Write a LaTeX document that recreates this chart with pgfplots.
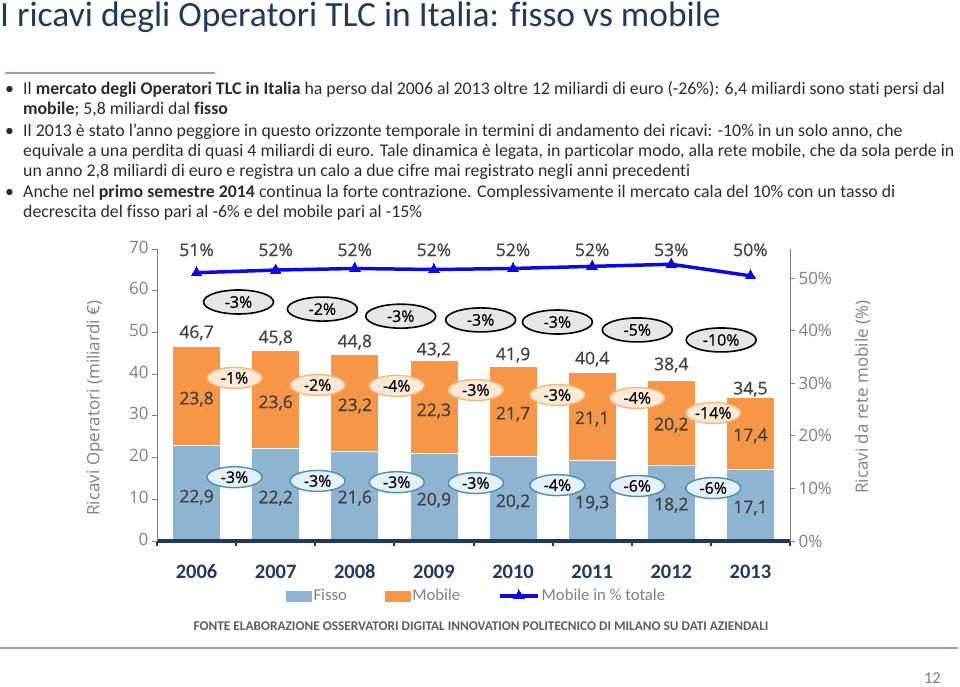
\documentclass[border=0pt]{standalone}
\usepackage{fontspec}
\setmainfont{Carlito}[Ligatures={NoCommon}]
\newfontfamily\osans{Open Sans}
\newfontfamily\osansm{Open Sans}[FakeBold=0.6]
\usepackage{pgfplots}
\pgfplotsset{compat=1.18}
\usetikzlibrary{shapes.geometric}
\definecolor{fisso}{HTML}{8FB4D1}
\definecolor{mobile}{HTML}{F79646}
\definecolor{linblue}{HTML}{0A0AE6}
\definecolor{navy}{HTML}{1F3864}
\definecolor{titleblue}{HTML}{1F3A5A}
\definecolor{txtgray}{HTML}{404040}
\definecolor{axgray}{HTML}{7F7F7F}
\definecolor{bodytxt}{HTML}{2B2B2B}
\definecolor{sepline}{HTML}{8EA6B4}
\definecolor{ellgray}{HTML}{E6E6E6}
\definecolor{ellmob}{HTML}{FDE9D5}
\definecolor{ellmobd}{HTML}{F9B67A}
\definecolor{ellfis}{HTML}{E6F0F8}
\definecolor{ellfisd}{HTML}{4D8DB0}
\pgfplotsset{linelegend/.style={legend image code/.code={\draw[##1, mark repeat=2, mark phase=2] plot coordinates {(0pt,0pt) (19pt,0pt) (38pt,0pt)};}}}
\tikzset{
  elltot/.style={ellipse, draw=black, line width=1.6pt, fill=ellgray, minimum width=70pt, minimum height=24pt, inner sep=0pt, font=\osansm\fontsize{16}{18}\selectfont, text=black},
  ellmo/.style={ellipse, draw=ellmobd, line width=1.4pt, fill=ellmob, minimum width=55pt, minimum height=21pt, inner sep=0pt, font=\osansm\fontsize{16}{18}\selectfont, text=black},
  ellfi/.style={ellipse, draw=ellfisd, line width=1.4pt, fill=ellfis, minimum width=55pt, minimum height=21pt, inner sep=0pt, font=\osansm\fontsize{16}{18}\selectfont, text=black},
  val/.style={font=\osansm\fontsize{17.5}{20}\selectfont, text=txtgray, inner sep=0pt},
  body/.style={anchor=base west, inner sep=0pt, font=\fontsize{17.8}{20}\selectfont, text=bodytxt},
}
\begin{document}
\begin{tikzpicture}
\path[use as bounding box] (0pt,0pt) rectangle (960pt,-686pt);
% title
\node[anchor=base west, inner sep=0pt, font=\fontsize{35.5}{40}\selectfont, text=titleblue] at (0pt,-26pt) {I ricavi degli Operatori TLC in Italia: fisso vs mobile};
\draw[sepline, line width=1.5pt] (5pt,-73pt) -- (215pt,-73pt);
% bullets
\node[body] at (5pt,-94pt) {•};
\node[body] at (5pt,-136pt) {•};
\node[body] at (5pt,-197pt) {•};
\node[body] at (23pt,-94pt) {Il \textbf{mercato degli Operatori TLC in Italia} ha perso dal 2006 al 2013 oltre 12 miliardi di euro (-26\%): 6,4 miliardi sono stati persi dal};
\node[body] at (23pt,-114pt) {\textbf{mobile}; 5,8 miliardi dal \textbf{fisso}};
\node[body] at (23pt,-136pt) {Il 2013 è stato l’anno peggiore in questo orizzonte temporale in termini di andamento dei ricavi: -10\% in un solo anno, che};
\node[body] at (23pt,-156pt) {equivale a una perdita di quasi 4 miliardi di euro. Tale dinamica è legata, in particolar modo, alla rete mobile, che da sola perde in};
\node[body] at (23pt,-176pt) {un anno 2,8 miliardi di euro e registra un calo a due cifre mai registrato negli anni precedenti};
\node[body] at (23pt,-197pt) {Anche nel \textbf{primo semestre 2014} continua la forte contrazione. Complessivamente il mercato cala del 10\% con un tasso di};
\node[body] at (23pt,-217pt) {decrescita del fisso pari al -6\% e del mobile pari al -15\%};
% footer
\node[inner sep=0pt, font=\bfseries\fontsize{13.3}{16}\selectfont, text=txtgray!85] at (481pt,-626pt) {FONTE ELABORAZIONE OSSERVATORI DIGITAL INNOVATION POLITECNICO DI MILANO SU DATI AZIENDALI};
\draw[sepline, line width=1.5pt] (0pt,-648pt) -- (958pt,-648pt);
\node[anchor=base east, inner sep=0pt, font=\fontsize{16.5}{19}\selectfont, text=axgray] at (941pt,-683pt) {12};

% main axis: stacked bars
\begin{axis}[
  at={(157pt,-541pt)}, anchor=south west,
  width=633pt, height=292pt, scale only axis,
  xmin=-0.5, xmax=7.5, ymin=0, ymax=70,
  ybar stacked, bar width=48pt,
  axis on top, clip=false,
  axis x line*=bottom, axis y line*=left,
  x axis line style={-, draw=navy, line width=3.5pt},
  y axis line style={-, draw=axgray, line width=0.8pt},
  tick align=outside,
  xtick={0,1,2,3,4,5,6,7},
  xticklabels={2006,2007,2008,2009,2010,2011,2012,2013},
  major x tick style={draw=none},
  minor xtick={-0.5,0.5,1.5,2.5,3.5,4.5,5.5,6.5,7.5},
  minor x tick style={draw=navy, line width=2pt},
  minor tick length=5pt,
  major tick length=5pt,
  typeset ticklabels with strut,
  xticklabel style={font=\bfseries\fontsize{20.5}{24}\selectfont, text=navy, yshift=-12pt},
  ytick={0,10,...,70},
  y tick style={draw=axgray, line width=0.8pt},
  yticklabel style={font=\osans\fontsize{17}{20}\selectfont, text=axgray},
  /pgf/number format/assume math mode=true,
  ylabel={Ricavi Operatori (miliardi €)},
  ylabel style={at={(axis description cs:-0.098,0.455)}, anchor=center, font=\osans\fontsize{17}{20}\selectfont, text=axgray},
]
\addplot[fill=fisso, draw=white, line width=0.8pt] coordinates {(0,22.9) (1,22.2) (2,21.6) (3,20.9) (4,20.2) (5,19.3) (6,18.2) (7,17.1)};
\addplot[fill=mobile, draw=white, line width=0.8pt] coordinates {(0,23.8) (1,23.6) (2,23.2) (3,22.3) (4,21.7) (5,21.1) (6,20.2) (7,17.4)};
\end{axis}

% secondary axis: share of mobile
\begin{axis}[
  at={(157pt,-541pt)}, anchor=south west,
  width=633pt, height=292pt, scale only axis,
  xmin=-0.5, xmax=7.5, ymin=0, ymax=55.5,
  axis x line=none, axis y line*=right,
  y axis line style={-, draw=axgray, line width=0.8pt},
  tick align=outside, major tick length=5pt,
  ytick={0,10,20,30,40,50},
  yticklabel={\pgfmathprintnumber{\tick}\%},
  y tick style={draw=axgray, line width=0.8pt},
  yticklabel style={font=\osans\fontsize{17}{20}\selectfont, text=axgray},
  /pgf/number format/assume math mode=true,
  ylabel={Ricavi da rete mobile (\%)},
  ylabel style={at={(axis description cs:1.115,0.493)}, anchor=center, font=\osans\fontsize{17}{20}\selectfont, text=axgray},
  clip=false,
  legend columns=3,
  legend style={at={(axis description cs:0.505,-0.188)}, anchor=center, draw=none, fill=none,
    font=\fontsize{16.7}{19}\selectfont, text=axgray,
    /tikz/every even column/.append style={column sep=36pt},
    nodes={inner sep=2pt}},
]
\addlegendimage{legend image code/.code={\fill[fisso] (0pt,-5pt) rectangle (25pt,5pt);}}
\addlegendentry{Fisso}
\addlegendimage{legend image code/.code={\fill[mobile] (0pt,-5pt) rectangle (25pt,5pt);}}
\addlegendentry{Mobile}
\addplot[linblue, line width=3.5pt, mark=triangle*, mark size=6pt, mark options={line width=0pt, fill=linblue}, linelegend]
  coordinates {(0,51.0) (1,51.5) (2,51.8) (3,51.6) (4,51.8) (5,52.2) (6,52.6) (7,50.4)};
\addlegendentry{Mobile in \% totale}
\end{axis}

% annotation layer (same geometry as the bar axis)
\begin{axis}[
  at={(157pt,-541pt)}, anchor=south west,
  width=633pt, height=292pt, scale only axis,
  xmin=-0.5, xmax=7.5, ymin=0, ymax=70,
  hide axis, clip=false,
]
% share labels
\node[val] at (axis cs:0,69.8) {51\%};
\node[val] at (axis cs:1,69.8) {52\%};
\node[val] at (axis cs:2,69.8) {52\%};
\node[val] at (axis cs:3,69.8) {52\%};
\node[val] at (axis cs:4,69.8) {52\%};
\node[val] at (axis cs:5,69.8) {52\%};
\node[val] at (axis cs:6,69.8) {53\%};
\node[val] at (axis cs:7,69.8) {50\%};
% totals
\node[val] at (axis cs:0,49.9) {46,7};
\node[val] at (axis cs:1,48.7) {45,8};
\node[val] at (axis cs:2,47.7) {44,8};
\node[val] at (axis cs:3,45.8) {43,2};
\node[val] at (axis cs:4,44.6) {41,9};
\node[val] at (axis cs:5,43.6) {40,4};
\node[val] at (axis cs:6,42.2) {38,4};
\node[val] at (axis cs:7,36.4) {34,5};
% mobile values
\node[val] at (axis cs:0,34.0) {23,8};
\node[val] at (axis cs:1,33.1) {23,6};
\node[val] at (axis cs:2,32.4) {23,2};
\node[val] at (axis cs:3,31.2) {22,3};
\node[val] at (axis cs:4,30.4) {21,7};
\node[val] at (axis cs:5,29.3) {21,1};
\node[val] at (axis cs:6,27.8) {20,2};
\node[val] at (axis cs:7,25.2) {17,4};
% fisso values
\node[val] at (axis cs:0,10.5) {22,9};
\node[val] at (axis cs:1,10.3) {22,2};
\node[val] at (axis cs:2,10.3) {21,6};
\node[val] at (axis cs:3,9.8) {20,9};
\node[val] at (axis cs:4,9.4) {20,2};
\node[val] at (axis cs:5,9.1) {19,3};
\node[val] at (axis cs:6,8.6) {18,2};
\node[val] at (axis cs:7,7.9) {17,1};
% total change ellipses
\node[elltot] at (axis cs:0.53,57.3) {-3\%};
\node[elltot] at (axis cs:1.59,55.6) {-2\%};
\node[elltot] at (axis cs:2.58,53.9) {-3\%};
\node[elltot] at (axis cs:3.59,53.0) {-3\%};
\node[elltot] at (axis cs:4.56,52.5) {-3\%};
\node[elltot] at (axis cs:5.57,50.6) {-5\%};
\node[elltot] at (axis cs:6.63,48.2) {-10\%};
% mobile change ellipses
\node[ellmo] at (axis cs:0.48,39.1) {-1\%};
\node[ellmo] at (axis cs:1.53,37.4) {-2\%};
\node[ellmo] at (axis cs:2.53,37.2) {-4\%};
\node[ellmo] at (axis cs:3.53,36.2) {-3\%};
\node[ellmo] at (axis cs:4.56,35.0) {-3\%};
\node[ellmo] at (axis cs:5.57,34.3) {-4\%};
\node[ellmo] at (axis cs:6.53,30.7) {-14\%};
% fisso change ellipses
\node[ellfi] at (axis cs:0.48,15.3) {-3\%};
\node[ellfi] at (axis cs:1.53,14.4) {-3\%};
\node[ellfi] at (axis cs:2.53,14.1) {-3\%};
\node[ellfi] at (axis cs:3.53,13.9) {-3\%};
\node[ellfi] at (axis cs:4.56,13.4) {-4\%};
\node[ellfi] at (axis cs:5.57,13.2) {-6\%};
\node[ellfi] at (axis cs:6.53,12.7) {-6\%};
\end{axis}
\end{tikzpicture}
\end{document}
